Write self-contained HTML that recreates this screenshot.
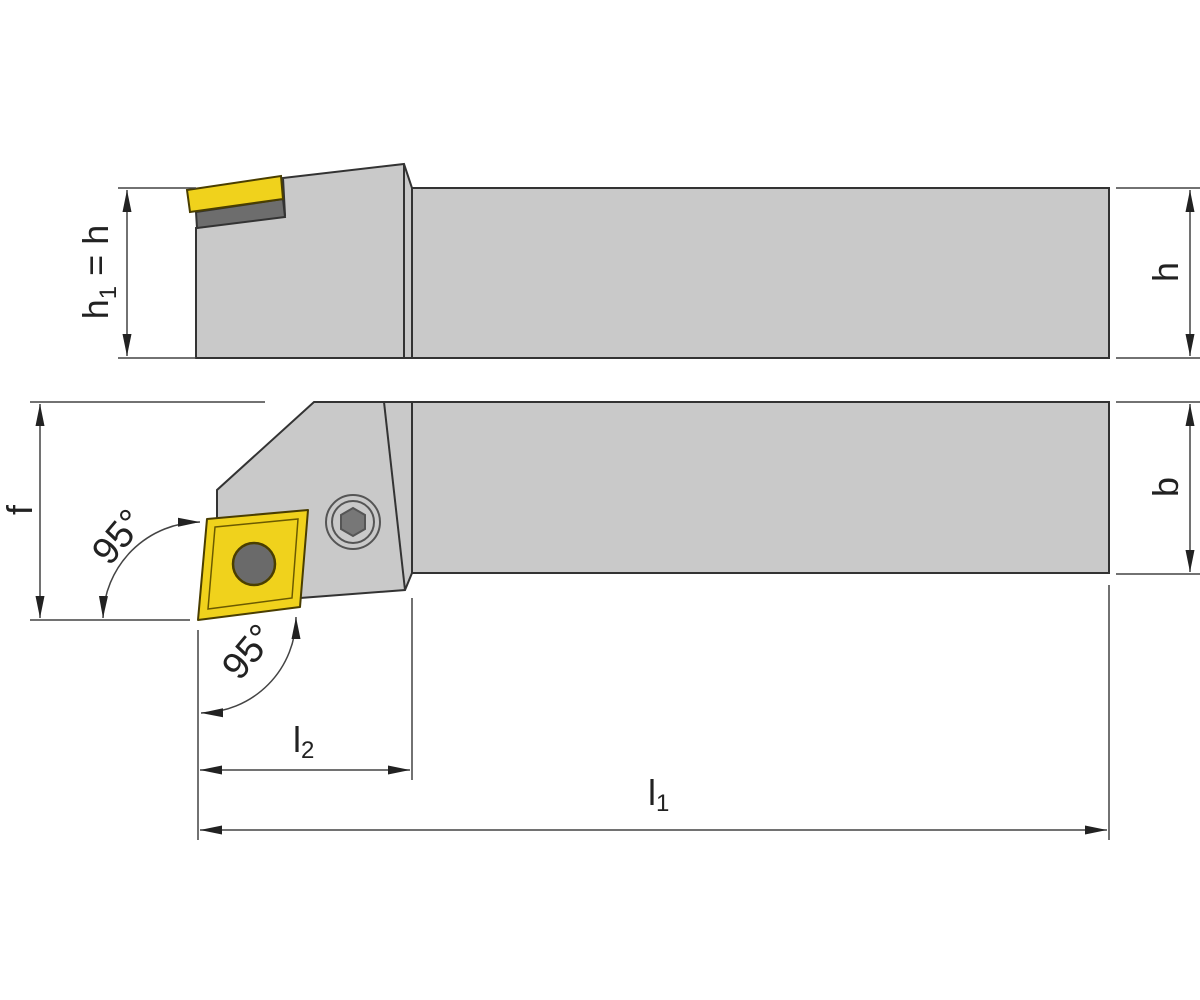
<!DOCTYPE html>
<html><head><style>
html,body{margin:0;padding:0;background:#fff;}
svg{display:block;}
text{font-family:"Liberation Sans",sans-serif;fill:#222;}
</style></head><body>
<svg width="1200" height="1000" viewBox="0 0 1200 1000" xmlns="http://www.w3.org/2000/svg">
<defs>
<marker id="a" viewBox="0 0 22 10" refX="22" refY="5" markerWidth="22" markerHeight="10" markerUnits="userSpaceOnUse" orient="auto-start-reverse"><path d="M0,0.5 L22,5 L0,9.5 z" fill="#222"/></marker>
</defs>
<g stroke="#333" stroke-width="2" fill="#c9c9c9">
<polygon points="196,228 285,215 283,178 404,164 412,188 412,358 196,358"/>
<rect x="412" y="188" width="697" height="170"/>
<line x1="404" y1="164" x2="404" y2="358"/>
<polygon points="196,212 283,199 285,217 197,228" fill="#6d6d6d"/>
<polygon points="187,190 281,176 283,199 190,212" fill="#f0d21c" stroke="#4a3e00"/>
<polygon points="314,402 412,402 412,573 405,590 300,598 217,610 217,490"/>
<rect x="412" y="402" width="697" height="171"/>
<line x1="384" y1="402" x2="405" y2="590"/>
<polygon points="207,519 308,510 300,607 198,620" fill="#f0d21c" stroke="#4a3e00" stroke-linejoin="round"/>
<polygon points="215,527 298,519 292,598 208,609" fill="none" stroke="#6b5a00" stroke-width="1.5"/>
<circle cx="254" cy="564" r="21" fill="#6a6a6a" stroke="#4a3e00" stroke-width="2.5"/>
<circle cx="353" cy="522" r="27" fill="#c9c9c9" stroke="#555"/>
<circle cx="353" cy="522" r="21" fill="#c9c9c9" stroke="#555"/>
<polygon points="353,508 365,515 365,529 353,536 341,529 341,515" fill="#777" stroke="#555"/>
</g>
<g stroke="#444" stroke-width="1.5" fill="none">
<line x1="118" y1="188" x2="196" y2="188"/><line x1="118" y1="358" x2="196" y2="358"/>
<line x1="127" y1="190" x2="127" y2="356" marker-start="url(#a)" marker-end="url(#a)"/>
<line x1="1116" y1="188" x2="1200" y2="188"/><line x1="1116" y1="358" x2="1200" y2="358"/>
<line x1="1190" y1="190" x2="1190" y2="356" marker-start="url(#a)" marker-end="url(#a)"/>
<line x1="1116" y1="402" x2="1200" y2="402"/><line x1="1116" y1="574" x2="1200" y2="574"/>
<line x1="1190" y1="404" x2="1190" y2="572" marker-start="url(#a)" marker-end="url(#a)"/>
<line x1="30" y1="402" x2="265" y2="402"/><line x1="30" y1="620" x2="190" y2="620"/>
<line x1="40" y1="404" x2="40" y2="618" marker-start="url(#a)" marker-end="url(#a)"/>
<line x1="198" y1="630" x2="198" y2="840"/><line x1="412" y1="598" x2="412" y2="780"/><line x1="1109" y1="585" x2="1109" y2="840"/>
<line x1="200" y1="770" x2="410" y2="770" marker-start="url(#a)" marker-end="url(#a)"/>
<line x1="200" y1="830" x2="1107" y2="830" marker-start="url(#a)" marker-end="url(#a)"/>
<path d="M200,522 A98,98 0 0 0 103,618" marker-start="url(#a)" marker-end="url(#a)"/>
<path d="M296,617 A96,96 0 0 1 201,713" marker-start="url(#a)" marker-end="url(#a)"/>
</g>
<text transform="translate(108,272) rotate(-90)" font-size="36" text-anchor="middle">h<tspan font-size="24" dy="8">1</tspan><tspan dy="-8"> = h</tspan></text>
<text transform="translate(1178,272) rotate(-90)" font-size="36" text-anchor="middle">h</text>
<text transform="translate(1178,487) rotate(-90)" font-size="36" text-anchor="middle">b</text>
<text transform="translate(32,510) rotate(-90)" font-size="36" text-anchor="middle">f</text>
<text transform="translate(128,545) rotate(-50)" font-size="38" text-anchor="middle">95°</text>
<text transform="translate(258,660) rotate(-50)" font-size="38" text-anchor="middle">95°</text>
<text x="293" y="752" font-size="36">l<tspan font-size="24" dy="6">2</tspan></text>
<text x="648" y="805" font-size="36">l<tspan font-size="24" dy="6">1</tspan></text>
</svg>
</body></html>
